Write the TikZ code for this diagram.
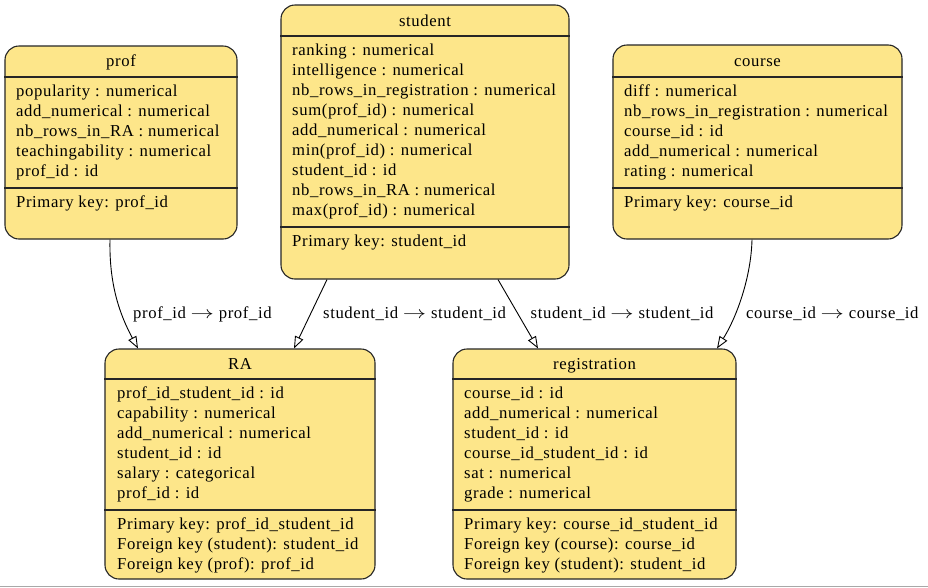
\documentclass[tikz,border=0pt]{standalone}
\usepackage{fontspec}
\usepackage{graphicx}
\setmainfont{Liberation Serif}[LetterSpace=3.6]
\usetikzlibrary{arrows.meta}
\definecolor{tabfill}{HTML}{FDE68A}
\definecolor{framegray}{HTML}{A8A8A8}
\newcommand{\tblfont}{\fontsize{16.7}{20}\selectfont}
\newcommand{\fkarrow}{ \scalebox{1.35}[1]{$\rightarrow$} }
\begin{document}
\begin{tikzpicture}[x=1pt,y=-1pt,
  tbl/.style={draw=black!85, fill=tabfill, rounded corners=14pt, line width=1.1pt, inner sep=0pt},
  sepline/.style={draw=black!85, line width=1.1pt},
  row/.style={anchor=base west, inner sep=0pt, font=\tblfont},
  ttl/.style={anchor=base, inner sep=0pt, font=\tblfont},
  fk/.style={draw=black, line width=0.9pt, -{Triangle[open, length=12pt, width=9pt]}},
  lbl/.style={anchor=base west, inner sep=0pt, font=\tblfont}]
\useasboundingbox (0,0) rectangle (928,587);
\fill[white] (0,0) rectangle (928,587);
\draw[framegray, line width=1pt] (0,586) -- (928,586);

% ---------- prof ----------
\node[tbl, minimum width=232pt, minimum height=193pt] (prof) at (121,142.5) {};
\draw[sepline] (prof.west |- 0,77) -- (prof.east |- 0,77);
\draw[sepline] (prof.west |- 0,188) -- (prof.east |- 0,188);
\node[ttl] (prof-t) at (121,66.5) {prof};
\foreach \t [count=\i from 0] in {popularity : numerical, add\_numerical : numerical, nb\_rows\_in\_RA : numerical, teachingability : numerical, prof\_id : id}
  \node[row] (prof-r\i) at (16,96.5+20*\i) {\t};
\node[row] (prof-pk) at (16,207) {Primary key: prof\_id};

% ---------- student ----------
\node[tbl, minimum width=288pt, minimum height=274pt] (student) at (425,142) {};
\draw[sepline] (student.west |- 0,36) -- (student.east |- 0,36);
\draw[sepline] (student.west |- 0,227) -- (student.east |- 0,227);
\node[ttl] (student-t) at (425,26.5) {student};
\foreach \t [count=\i from 0] in {ranking : numerical, intelligence : numerical, nb\_rows\_in\_registration : numerical, sum(prof\_id) : numerical, add\_numerical : numerical, min(prof\_id) : numerical, student\_id : id, nb\_rows\_in\_RA : numerical, max(prof\_id) : numerical}
  \node[row] (student-r\i) at (292,55.5+20*\i) {\t};
\node[row] (student-pk) at (292,246) {Primary key: student\_id};

% ---------- course ----------
\node[tbl, minimum width=289pt, minimum height=194pt] (course) at (757.5,142) {};
\draw[sepline] (course.west |- 0,77) -- (course.east |- 0,77);
\draw[sepline] (course.west |- 0,188) -- (course.east |- 0,188);
\node[ttl] (course-t) at (757.5,66) {course};
\foreach \t [count=\i from 0] in {diff : numerical, nb\_rows\_in\_registration : numerical, course\_id : id, add\_numerical : numerical, rating : numerical}
  \node[row] (course-r\i) at (624,96.5+20*\i) {\t};
\node[row] (course-pk) at (624,207) {Primary key: course\_id};

% ---------- RA ----------
\node[tbl, minimum width=270pt, minimum height=230pt] (RA) at (240,464) {};
\draw[sepline] (RA.west |- 0,379) -- (RA.east |- 0,379);
\draw[sepline] (RA.west |- 0,510) -- (RA.east |- 0,510);
\node[ttl] (RA-t) at (240,369.5) {RA};
\foreach \t [count=\i from 0] in {prof\_id\_student\_id : id, capability : numerical, add\_numerical : numerical, student\_id : id, salary : categorical, prof\_id : id}
  \node[row] (RA-r\i) at (117,398.5+20*\i) {\t};
\foreach \t [count=\i from 0] in {Primary key: prof\_id\_student\_id, Foreign key (student): student\_id, Foreign key (prof): prof\_id}
  \node[row] (RA-k\i) at (117,529+20*\i) {\t};

% ---------- registration ----------
\node[tbl, minimum width=283pt, minimum height=230pt] (reg) at (594.5,464) {};
\draw[sepline] (reg.west |- 0,379) -- (reg.east |- 0,379);
\draw[sepline] (reg.west |- 0,510) -- (reg.east |- 0,510);
\node[ttl] (reg-t) at (594.5,369.5) {registration};
\foreach \t [count=\i from 0] in {course\_id : id, add\_numerical : numerical, student\_id : id, course\_id\_student\_id : id, sat : numerical, grade : numerical}
  \node[row] (reg-r\i) at (464,398.5+20*\i) {\t};
\foreach \t [count=\i from 0] in {Primary key: course\_id\_student\_id, Foreign key (course): course\_id, Foreign key (student): student\_id}
  \node[row] (reg-k\i) at (464,529+20*\i) {\t};

% ---------- connectors ----------
\draw[fk] ([xshift=-11pt]prof.south) .. controls (109,285) and (120,315) .. ([xshift=-102pt]RA.north);
\draw[fk] ([xshift=-98pt]student.south) -- ([xshift=54pt]RA.north);
\draw[fk] ([xshift=73pt]student.south) -- ([xshift=-56.5pt]reg.north);
\draw[fk] ([xshift=-5.5pt]course.south) .. controls (751,280) and (735,320) .. ([xshift=122.5pt]reg.north);

\node[lbl] (l1) at (133,318) {prof\_id\fkarrow prof\_id};
\node[lbl] (l2) at (323,318) {student\_id\fkarrow student\_id};
\node[lbl] (l3) at (530.5,318) {student\_id\fkarrow student\_id};
\node[lbl] (l4) at (746,318) {course\_id\fkarrow course\_id};
\end{tikzpicture}
\end{document}
